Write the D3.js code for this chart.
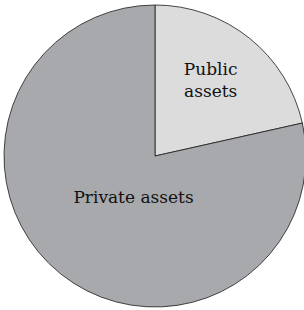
<!DOCTYPE html>
<html><head><meta charset="utf-8">
<script src="https://cdn.jsdelivr.net/npm/d3@7"></script>
<style>html,body{margin:0;padding:0;background:#fff;}</style>
</head><body>
<svg id="c" width="304" height="310"></svg>
<script>
const categories = ["Public assets", "Private assets"];
const values = [21.5, 78.5];
const labelLines = [["Public", "assets"], ["Private assets"]];

const colors = ["#dcdcdc", "#a8a9ac"];
const labelRadius = [97, 52];
const labelDx = [-5, 11];
const cx = 155, cy = 156, R = 151;

const svg = d3.select("#c");
const g = svg.append("g").attr("transform", `translate(${cx},${cy})`);
const pie = d3.pie().sort(null).value(d => d)(values);
const arc = d3.arc().innerRadius(0).outerRadius(R);

g.selectAll("path").data(pie).join("path")
  .attr("d", arc)
  .attr("fill", (d, i) => colors[i])
  .attr("stroke", "#1a1a1a")
  .attr("stroke-width", 0.8)
  .attr("stroke-linejoin", "miter");

pie.forEach((d, i) => {
  const a = d3.arc().innerRadius(labelRadius[i]).outerRadius(labelRadius[i]);
  const [x0, y] = a.centroid(d);
  const x = x0 + labelDx[i];
  const lines = labelLines[i];
  const lh = 22;
  const t = g.append("text")
    .attr("text-anchor", "middle")
    .attr("font-family", "DejaVu Serif")
    .attr("font-size", 17)
    .attr("fill", "#111");
  lines.forEach((l, j) => {
    t.append("tspan").attr("x", x)
      .attr("y", y + (j - (lines.length - 1) / 2) * lh)
      .attr("dy", "0.35em").text(l);
  });
});
</script>
</body></html>
